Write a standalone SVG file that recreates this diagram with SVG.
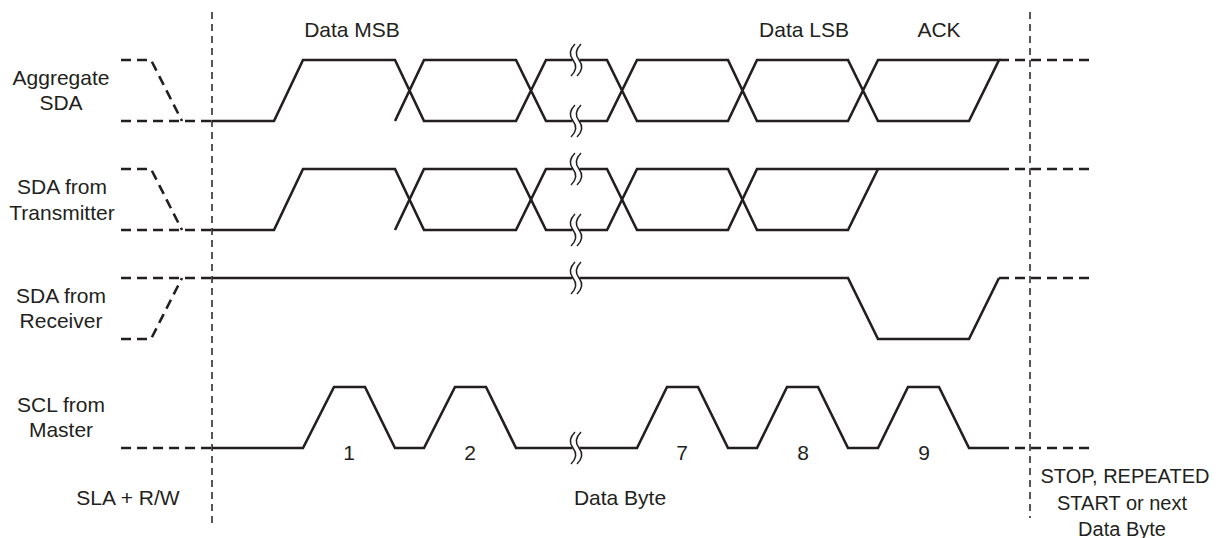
<svg xmlns="http://www.w3.org/2000/svg" xmlns:xlink="http://www.w3.org/1999/xlink" width="1218" height="538" viewBox="0 0 1218 538">
<style>
.sig{fill:none;stroke:#231f20;stroke-width:2.6;stroke-linejoin:miter}
.dsh{fill:none;stroke:#231f20;stroke-width:2.6;stroke-dasharray:10 6}
.vd{fill:none;stroke:#231f20;stroke-width:1.5;stroke-dasharray:7 5}
.brkc{fill:none;stroke:#231f20;stroke-width:1.5}
text{font-family:"Liberation Sans",Arial,sans-serif;font-size:21px;fill:#231f20;text-anchor:middle}
text.r{font-size:20px}
</style>
<defs>
<g id="brk">
<rect x="-3.5" y="-5" width="7" height="10" fill="#fff"/>
<path class="brkc" d="M -1,-16 C -7,-10 -7,-5 -3,0 C 1,5 1,10 -5,16"/>
<path class="brkc" d="M 5,-16 C -1,-10 -1,-5 3,0 C 7,5 7,10 1,16"/>
</g>
</defs>
<rect width="1218" height="538" fill="#fff"/>

<g id="guides">
<line class="vd" x1="212" y1="12" x2="212" y2="527"/>
<line class="vd" x1="1030" y1="12" x2="1030" y2="518"/>
</g>

<g id="labels">
<text x="61" y="85">Aggregate</text>
<text x="61" y="110">SDA</text>
<text x="62" y="194">SDA from</text>
<text x="62" y="220">Transmitter</text>
<text x="61" y="303">SDA from</text>
<text x="61" y="328">Receiver</text>
<text x="61" y="412">SCL from</text>
<text x="61" y="437">Master</text>
<text x="352" y="37">Data MSB</text>
<text x="804" y="37">Data LSB</text>
<text x="939" y="37">ACK</text>
<text x="349" y="460">1</text>
<text x="470" y="460">2</text>
<text x="682" y="460">7</text>
<text x="803" y="460">8</text>
<text x="924" y="460">9</text>
<text x="128" y="505">SLA + R/W</text>
<text x="620" y="505">Data Byte</text>
<text class="r" x="1125" y="483">STOP, REPEATED</text>
<text class="r" x="1122" y="510">START or next</text>
<text class="r" x="1122" y="536">Data Byte</text>
</g>

<g id="aggregate-sda">
<path class="dsh" d="M121,60 H151 L182,121"/>
<path class="dsh" d="M121,121 H212"/>
<path class="sig" d="M212,121 H274 L303,60 H395 L424,121 H516 L546,60 H607 L637,121 H728 L757,60 H848 L878,121 H969 L999,60 H878 L848,121 H757 L728,60 H637 L607,121 H546 L516,60 H424 L395,121"/>
<path class="dsh" d="M999,60 H1089"/>
<use xlink:href="#brk" x="576" y="60"/>
<use xlink:href="#brk" x="576" y="121"/>
</g>

<g id="sda-transmitter">
<path class="dsh" d="M121,169 H151 L182,230"/>
<path class="dsh" d="M121,230 H212"/>
<path class="sig" d="M212,230 H274 L303,169 H395 L424,230 H516 L546,169 H607 L637,230 H728 L757,169 H999"/>
<path class="sig" d="M395,230 L424,169 H516 L546,230 H607 L637,169 H728 L757,230 H848 L878,169"/>
<path class="dsh" d="M999,169 H1089"/>
<use xlink:href="#brk" x="576" y="169"/>
<use xlink:href="#brk" x="576" y="230"/>
</g>

<g id="sda-receiver">
<path class="dsh" d="M121,339 H151 L182,278"/>
<path class="dsh" d="M121,278 H212"/>
<path class="sig" d="M212,278 H848 L878,339 H969 L999,278"/>
<path class="dsh" d="M999,278 H1089"/>
<use xlink:href="#brk" x="576" y="278"/>
</g>

<g id="scl-master">
<path class="dsh" d="M121,448 H212"/>
<path class="sig" d="M212,448 H303 L334,387 H365 L395,448 H424 L455,387 H486 L516,448 H637 L667,387 H698 L728,448 H757 L787,387 H818 L848,448 H878 L908,387 H939 L969,448 H999"/>
<path class="dsh" d="M999,448 H1089"/>
<use xlink:href="#brk" x="576" y="448"/>
</g>
</svg>
